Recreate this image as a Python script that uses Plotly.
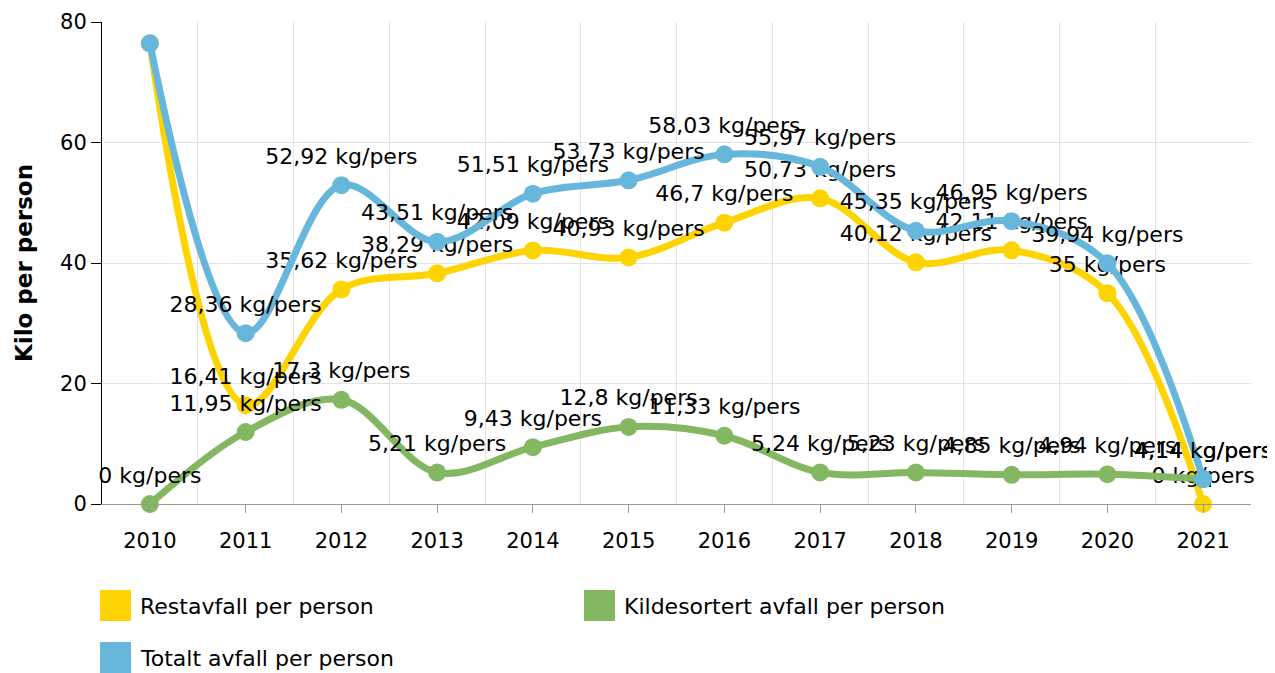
import plotly.graph_objects as go

years = [2010, 2011, 2012, 2013, 2014, 2015, 2016, 2017, 2018, 2019, 2020, 2021]
restavfall = [76.47, 16.41, 35.62, 38.29, 42.09, 40.93, 46.7, 50.73, 40.12, 42.11, 35, 0]
kildesortert = [0, 11.95, 17.3, 5.21, 9.43, 12.8, 11.33, 5.24, 5.23, 4.85, 4.94, 4.14]
totalt = [76.47, 28.36, 52.92, 43.51, 51.51, 53.73, 58.03, 55.97, 45.35, 46.95, 39.94, 4.14]
hidden_label_years = [2010]  # labels above the plot top are not shown for rest/total

names = ["Restavfall per person", "Kildesortert avfall per person", "Totalt avfall per person"]
colors = ["#FDD400", "#84B761", "#67B7DC"]
series = [restavfall, kildesortert, totalt]
hide = [True, False, True]

FONT = "DejaVu Sans"
FS_LABEL = 22
FS_TICK = 21
FS_LEG = 22
FS_TITLE = 23

# plot area in figure pixels
L, T, W, H = 94, 14, 1149, 482
FIG_W, FIG_H = 1275, 673


def fmt(v):
    s = f"{v:g}".replace(".", ",")
    return s + " kg/pers"


fig = go.Figure()
for vals, name, col, h in zip(series, names, colors, hide):
    labels = ["" if (h and y in hidden_label_years) else fmt(v) for y, v in zip(years, vals)]
    fig.add_trace(go.Scatter(
        x=years, y=vals, name=name, mode="lines+markers",
        line=dict(color=col, width=7, shape="spline", smoothing=1),
        marker=dict(color=col, size=18),
        cliponaxis=False, showlegend=False,
    ))
    fig.add_trace(go.Scatter(
        x=years, y=vals, mode="markers+text", text=labels,
        textposition="top center",
        textfont=dict(family=FONT, size=FS_LABEL, color="#000"),
        marker=dict(size=24, opacity=0),
        cliponaxis=False, showlegend=False, hoverinfo="skip",
    ))

# manual legend (squares + text), positions in figure pixels
legend_items = [
    (names[0], colors[0], 0, 0),
    (names[1], colors[1], 484, 0),
    (names[2], colors[2], 0, 1),
]


def px(xp):
    return (xp - L) / W


def py(yp):
    return (T + H - yp) / H


shapes = []
annotations = []
for name, col, dx, row in legend_items:
    x0 = 92 + dx
    y0 = 582 + row * 52
    shapes.append(dict(type="rect", xref="paper", yref="paper",
                       x0=px(x0), x1=px(x0 + 31), y0=py(y0), y1=py(y0 + 31),
                       fillcolor=col, line=dict(width=0)))
    annotations.append(dict(xref="paper", yref="paper",
                            x=px(x0 + 38), y=py(y0 + 16),
                            xanchor="left", yanchor="middle", showarrow=False,
                            text=name, font=dict(family=FONT, size=FS_LEG, color="#000")))

fig.update_layout(
    width=FIG_W, height=FIG_H,
    margin=dict(l=L, r=FIG_W - L - W, t=T, b=FIG_H - T - H),
    paper_bgcolor="white", plot_bgcolor="white",
    font=dict(family=FONT, size=FS_TICK, color="#000"),
    shapes=shapes, annotations=annotations,
    xaxis=dict(
        range=[2009.5, 2021.5], tickmode="array", tickvals=years,
        ticktext=[str(y) for y in years], automargin=False,
        showgrid=False, zeroline=False,
        showline=True, linecolor="#999999", linewidth=1,
        ticks="outside", ticklen=8, tickcolor="#999999",
        ticklabelstandoff=10,
        tickfont=dict(family=FONT, size=FS_TICK, color="#000"),
        minor=dict(tickmode="array", tickvals=[y + 0.5 for y in years],
                   showgrid=True, gridcolor="#e3e3e3", gridwidth=1, ticks=""),
    ),
    yaxis=dict(
        range=[0, 80], tickmode="array", tickvals=[0, 20, 40, 60, 80],
        automargin=False,
        showgrid=True, gridcolor="#e3e3e3", gridwidth=1, zeroline=False,
        showline=True, linecolor="#000", linewidth=1,
        ticks="outside", ticklen=10, tickcolor="#000",
        tickfont=dict(family=FONT, size=FS_TICK, color="#000"),
        title=dict(text="<b>Kilo per person</b>", standoff=21,
                   font=dict(family=FONT, size=FS_TITLE, color="#000")),
    ),
)

fig.write_html("out.html")
